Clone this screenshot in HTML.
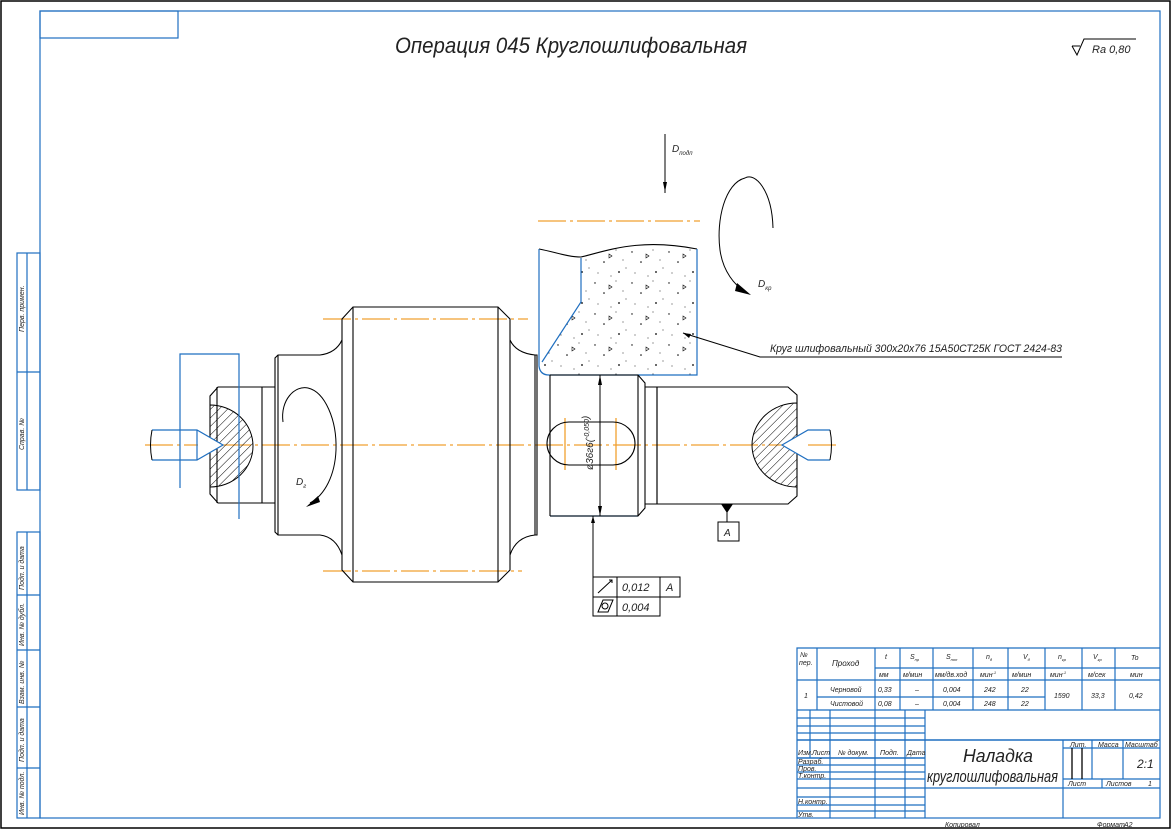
<!DOCTYPE html>
<html><head><meta charset="utf-8"><style>
html,body{margin:0;padding:0;background:#fff}
svg{display:block}
text{font-family:"Liberation Sans","DejaVu Sans",sans-serif;font-style:italic;fill:#222}
</style></head><body>
<svg width="1172" height="830" viewBox="0 0 1172 830" xmlns="http://www.w3.org/2000/svg">
<defs>
<pattern id="hatch" width="6" height="6" patternUnits="userSpaceOnUse" patternTransform="rotate(45)">
<line x1="0" y1="0" x2="0" y2="6" stroke="#000" stroke-width="1"/>
</pattern>
<pattern id="dots" width="37" height="31" patternUnits="userSpaceOnUse">
<circle cx="3" cy="4" r="0.7" fill="#000"/><circle cx="24" cy="2" r="0.5" fill="#000"/>
<circle cx="12" cy="14" r="0.8" fill="#000"/><circle cx="31" cy="12" r="0.5" fill="#000"/>
<circle cx="6" cy="25" r="0.5" fill="#000"/><circle cx="27" cy="24" r="0.9" fill="#000"/>
<circle cx="19" cy="28" r="0.5" fill="#000"/><circle cx="34" cy="20" r="0.5" fill="#000"/>
<path d="M17 6 l3 2 -3 2z" fill="none" stroke="#000" stroke-width="0.6"/>
</pattern>
</defs>
<rect x="1" y="1" width="1169" height="827" fill="none" stroke="#000" stroke-width="1.5"/>
<g stroke="#1f6fc0" fill="none" stroke-width="1.2">
<rect x="40" y="11" width="1120" height="807"/>
<rect x="40" y="11" width="138" height="27"/>
<rect x="17" y="253" width="23" height="237"/>
<line x1="27" y1="253" x2="27" y2="490"/><line x1="17" y1="372" x2="40" y2="372"/>
<rect x="17" y="532" width="23" height="286"/>
<line x1="27" y1="532" x2="27" y2="818"/>
<line x1="17" y1="595" x2="40" y2="595"/><line x1="17" y1="650" x2="40" y2="650"/>
<line x1="17" y1="707" x2="40" y2="707"/><line x1="17" y1="768" x2="40" y2="768"/>
</g>
<g font-size="7">
<text transform="translate(24,332) rotate(-90)">Перв. примен.</text>
<text transform="translate(24,450) rotate(-90)">Справ. №</text>
<text transform="translate(24,590) rotate(-90)">Подп. и дата</text>
<text transform="translate(24,646) rotate(-90)">Инв. № дубл.</text>
<text transform="translate(24,704) rotate(-90)">Взам. инв. №</text>
<text transform="translate(24,762) rotate(-90)">Подп. и дата</text>
<text transform="translate(24,815) rotate(-90)">Инв. № подл.</text>
</g>
<text x="395" y="53" font-size="22" textLength="352" lengthAdjust="spacingAndGlyphs">Операция 045 Круглошлифовальная</text>
<path d="M1072 46 l5 9 l7 -16 h52" fill="none" stroke="#000" stroke-width="1"/>
<line x1="1072" y1="46" x2="1080" y2="46" stroke="#000"/>
<text x="1092" y="53" font-size="11">Ra 0,80</text>

<g stroke="#f0a030" stroke-width="1.3" stroke-dasharray="28 4 3 4">
<line x1="145" y1="445" x2="838" y2="445"/>
<line x1="323" y1="319" x2="528" y2="319"/>
<line x1="323" y1="571" x2="522" y2="571"/>
<line x1="538" y1="221" x2="700" y2="221"/>
</g>
<g stroke="#f0a030" stroke-width="1.3">
<line x1="565" y1="418" x2="565" y2="470"/><line x1="616" y1="418" x2="616" y2="470"/>
</g>

<path d="M581 258 C610 250,640 240,697 250 L697 375 L549 375 Q540 372,542 362 L581 302 Z" fill="url(#dots)"/>
<path d="M539 249 C555 252,568 257,581 257 C610 250,640 238,697 249" fill="none" stroke="#000" stroke-width="1.1"/>
<g stroke="#1f6fc0" fill="none" stroke-width="1.2">
<path d="M539 249 L539 366 Q540 375,549 375 L697 375 L697 249"/>
<path d="M581 258 L581 302 L542 362"/>
<line x1="550" y1="516" x2="638" y2="516"/>
</g>
<path d="M683 333 L760 357 L1062 357" fill="none" stroke="#000"/>
<path d="M683 333 l8 1 -2 4z" fill="#000"/>
<text x="770" y="352" font-size="11" textLength="292" lengthAdjust="spacingAndGlyphs">Круг шлифовальный 300х20х76 15А50СТ25К ГОСТ 2424-83</text>

<line x1="665" y1="134" x2="665" y2="193" stroke="#000"/>
<path d="M663 182 h4 l-2 10z" fill="#000"/>
<text x="672" y="152" font-size="10">D<tspan font-size="6" dy="3">подп</tspan></text>
<path d="M773 228 C772 190,755 172,745 178 C725 183,716 220,720 250 C723 272,735 285,745 292" fill="none" stroke="#000"/>
<path d="M737 283 l14 12 -16 -4z" fill="#000"/>
<text x="758" y="287" font-size="10">D<tspan font-size="6" dy="3">кр</tspan></text>

<g stroke="#000" fill="none" stroke-width="1.1">
<path d="M342 319 L353 307 L498 307 L510 319 L510 570 L498 582 L353 582 L342 570 Z"/>
<line x1="353" y1="307" x2="353" y2="582"/><line x1="498" y1="307" x2="498" y2="582"/>
<path d="M342 340 Q336 353,320 355 L278 355 L275 358 L275 532 L278 535 L320 535 Q336 537,342 555"/>
<line x1="278" y1="355" x2="278" y2="535"/>
<path d="M275 387 L262 387 M275 503 L262 503"/>
<path d="M262 387 L218 387 L210 396 L210 494 L218 503 L262 503 Z"/>
<line x1="217" y1="387" x2="217" y2="503"/>
<path d="M510 340 Q516 353,535 355 L537 355 L537 535 L535 535 Q516 537,510 555"/>
<line x1="535" y1="355" x2="535" y2="535"/>
<path d="M550 375 L550 516 M550 375 L638 375 L645 383 L645 508 L638 516 L550 516"/>
<line x1="638" y1="375" x2="638" y2="516"/>
<path d="M645 387 L657 387 M645 504 L657 504"/>
<path d="M657 387 L788 387 L797 395 L797 496 L788 504 L657 504 Z"/>
<line x1="657" y1="387" x2="657" y2="504"/>
<path d="M569 422 L613 422 A22 21.5 0 0 1 613 465 L569 465 A22 21.5 0 0 1 569 422 Z"/>
</g>
<path d="M210 405 A43 41 0 0 1 210 487 Z" fill="url(#hatch)" stroke="#000"/>
<path d="M797 403 A45 42 0 0 0 797 487 Z" fill="url(#hatch)" stroke="#000"/>
<path d="M198 430 L223 445 L198 460 Z" fill="#fff" stroke="none"/>
<path d="M808 430 L782 445 L808 460 Z" fill="#fff" stroke="none"/>
<g stroke="#1f6fc0" fill="none" stroke-width="1.2">
<path d="M152 430 L197 430 L223 445 L197 460 L152 460"/>
<line x1="197" y1="430" x2="197" y2="460"/>
<path d="M830 430 L808 430 L782 445 L808 460 L830 460"/>
<path d="M180 488 L180 354 L239 354 L239 519"/>
</g>
<path d="M152 430 q-3 15 0 30 M830 430 q3 15 0 30" stroke="#000" fill="none"/>

<path d="M283 422 C280 400,295 385,308 388 C325 392,337 420,336 450 C335 475,325 495,310 503" fill="none" stroke="#000"/>
<path d="M306 507 l12 -11 2 6z" fill="#000"/>
<text x="296" y="485" font-size="10">D<tspan font-size="6" dy="3">г</tspan></text>

<line x1="600" y1="375" x2="600" y2="516" stroke="#000"/>
<path d="M598 385 l2 -10 2 10z M598 506 l2 10 2 -10z" fill="#000"/>
<text transform="translate(593,470) rotate(-90)" font-size="10">ø36г6(<tspan font-size="7" dy="-4">-0,050</tspan>)</text>
<line x1="593" y1="516" x2="593" y2="577" stroke="#000"/>
<path d="M591 523 h4 l-2 -7z" fill="#000"/>
<g stroke="#000" fill="none">
<rect x="593" y="577" width="87" height="20"/>
<line x1="617" y1="577" x2="617" y2="616"/><line x1="660" y1="577" x2="660" y2="597"/>
<path d="M593 597 V616 H660 V597"/>
<path d="M598 593 L612 580"/><path d="M609 580 l3 0 0 3"/>
<path d="M598 612 l5 -12 h10 l-5 12z"/><circle cx="605" cy="606" r="3"/>
</g>
<text x="622" y="591" font-size="11">0,012</text><text x="666" y="591" font-size="11">A</text>
<text x="622" y="611" font-size="11">0,004</text>
<path d="M721 504 h12 l-6 9z" fill="#000"/>
<line x1="727" y1="512" x2="727" y2="522" stroke="#000"/>
<rect x="718" y="522" width="21" height="19" fill="none" stroke="#000"/>
<text x="724" y="536" font-size="10">A</text>

<g stroke="#1f6fc0" fill="none" stroke-width="1.2">
<path d="M797 818 V648 H1160"/>
<line x1="875" y1="668" x2="1160" y2="668"/>
<line x1="797" y1="680" x2="1160" y2="680"/>
<line x1="817" y1="697" x2="1045" y2="697"/>
<line x1="797" y1="710" x2="1160" y2="710"/>
<line x1="817" y1="648" x2="817" y2="710"/>
<line x1="875" y1="648" x2="875" y2="710"/><line x1="900" y1="648" x2="900" y2="710"/>
<line x1="933" y1="648" x2="933" y2="710"/><line x1="973" y1="648" x2="973" y2="710"/>
<line x1="1008" y1="648" x2="1008" y2="710"/><line x1="1045" y1="648" x2="1045" y2="710"/>
<line x1="1082" y1="648" x2="1082" y2="710"/><line x1="1115" y1="648" x2="1115" y2="710"/>
<line x1="810" y1="710" x2="810" y2="758"/><line x1="830" y1="710" x2="830" y2="818"/>
<line x1="875" y1="710" x2="875" y2="818"/><line x1="905" y1="710" x2="905" y2="818"/>
<line x1="925" y1="710" x2="925" y2="818"/>
<line x1="797" y1="718" x2="925" y2="718"/><line x1="797" y1="726" x2="925" y2="726"/>
<line x1="797" y1="733" x2="925" y2="733"/><line x1="797" y1="740" x2="1160" y2="740" stroke-width="1.6"/>
<line x1="797" y1="758" x2="925" y2="758" stroke-width="1.6"/>
<line x1="797" y1="765" x2="925" y2="765"/><line x1="797" y1="772" x2="925" y2="772"/>
<line x1="797" y1="779" x2="925" y2="779"/><line x1="797" y1="788" x2="1160" y2="788"/>
<line x1="797" y1="797" x2="925" y2="797"/><line x1="797" y1="805" x2="925" y2="805"/>
<line x1="797" y1="811" x2="925" y2="811"/>
<line x1="1063" y1="740" x2="1063" y2="818"/>
<line x1="1063" y1="748" x2="1160" y2="748"/>
<line x1="1063" y1="779" x2="1160" y2="779"/>
<line x1="1092" y1="740" x2="1092" y2="779"/><line x1="1123" y1="740" x2="1123" y2="779"/>
<line x1="1102" y1="779" x2="1102" y2="788"/>
</g>
<g stroke="#000" stroke-width="1.3"><line x1="1072" y1="748" x2="1072" y2="779"/><line x1="1082" y1="748" x2="1082" y2="779"/></g>
<g font-size="7">
<text x="800" y="657">№</text><text x="799" y="665">пер.</text>
<text x="832" y="666" font-size="8">Проход</text>
<text x="885" y="659">t</text><text x="910" y="659">S<tspan font-size="4" dy="2">пр</tspan></text>
<text x="946" y="659">S<tspan font-size="4" dy="2">поп</tspan></text>
<text x="986" y="659">n<tspan font-size="4" dy="2">д</tspan></text>
<text x="1023" y="659">V<tspan font-size="4" dy="2">д</tspan></text>
<text x="1058" y="659">n<tspan font-size="4" dy="2">кр</tspan></text>
<text x="1093" y="659">V<tspan font-size="4" dy="2">кр</tspan></text>
<text x="1131" y="660">To</text>
<text x="879" y="677">мм</text><text x="903" y="677">м/мин</text><text x="935" y="677">мм/дв.ход</text>
<text x="980" y="677">мин<tspan font-size="4" dy="-3">-1</tspan></text><text x="1012" y="677">м/мин</text>
<text x="1050" y="677">мин<tspan font-size="4" dy="-3">-1</tspan></text><text x="1088" y="677">м/сек</text><text x="1130" y="677">мин</text>
<text x="804" y="698">1</text>
<text x="830" y="692">Черновой</text><text x="830" y="706">Чистовой</text>
<text x="878" y="692">0,33</text><text x="878" y="706">0,08</text>
<text x="915" y="692">–</text><text x="915" y="706">–</text>
<text x="943" y="692">0,004</text><text x="943" y="706">0,004</text>
<text x="984" y="692">242</text><text x="984" y="706">248</text>
<text x="1021" y="692">22</text><text x="1021" y="706">22</text>
<text x="1054" y="698">1590</text><text x="1091" y="698">33,3</text><text x="1129" y="698">0,42</text>
<text x="798" y="755">Изм.</text><text x="812" y="755">Лист</text><text x="838" y="755">№ докум.</text>
<text x="880" y="755">Подп.</text><text x="907" y="755">Дата</text>
<text x="798" y="764">Разраб.</text><text x="798" y="771">Пров.</text><text x="798" y="778">Т.контр.</text>
<text x="798" y="804">Н.контр.</text><text x="798" y="817">Утв.</text>
<text x="1070" y="747">Лит.</text><text x="1098" y="747">Масса</text><text x="1125" y="747">Масштаб</text>
<text x="1068" y="786">Лист</text><text x="1106" y="786">Листов</text><text x="1148" y="786">1</text>
<text x="945" y="827">Копировал</text><text x="1097" y="827">Формат</text><text x="1124" y="827">А2</text>
</g>
<text x="1137" y="768" font-size="12">2:1</text>
<text x="963" y="762" font-size="18" textLength="70" lengthAdjust="spacingAndGlyphs">Наладка</text>
<text x="927" y="782" font-size="17" textLength="131" lengthAdjust="spacingAndGlyphs">круглошлифовальная</text>
</svg>
</body></html>
